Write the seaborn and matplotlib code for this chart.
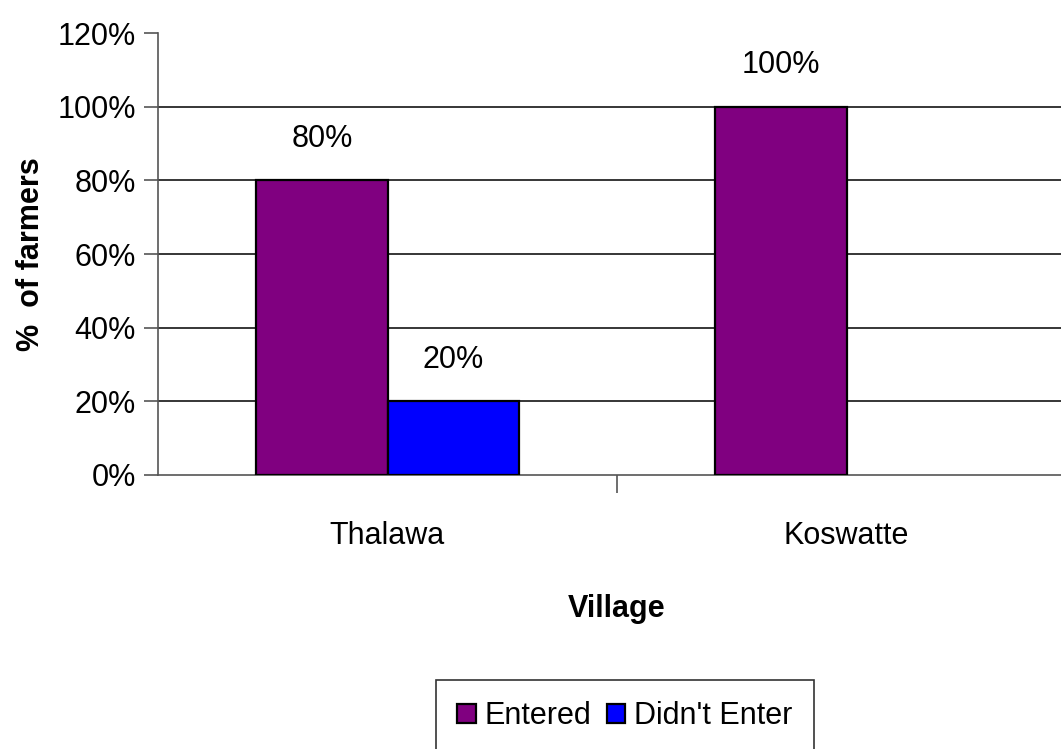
import matplotlib
matplotlib.use("Agg")
import matplotlib.pyplot as plt
import seaborn as sns
import pandas as pd
from matplotlib.ticker import FixedLocator, PercentFormatter
from matplotlib.patches import Patch

villages = ["Thalawa", "Koswatte"]
series = ["Entered", "Didn't Enter"]
entered = [80, 100]
didnt_enter = [20, 0]
y_ticks = [0, 20, 40, 60, 80, 100, 120]
colors = ["#800080", "#0000FF"]

rows = []
for v, e, d in zip(villages, entered, didnt_enter):
    rows.append({"Village": v, "Status": series[0], "Pct": e})
    rows.append({"Village": v, "Status": series[1], "Pct": d})
df = pd.DataFrame(rows)

sns.set_style("white")
fams = ["Liberation Sans Narrow", "Liberation Sans", "DejaVu Sans"]
plt.rcParams["font.family"] = fams
plt.rcParams["text.color"] = "black"
plt.rcParams["axes.labelcolor"] = "black"
plt.rcParams["xtick.color"] = "black"
plt.rcParams["ytick.color"] = "black"

FS = 22

W, H = 1061, 749
fig = plt.figure(figsize=(W / 100, H / 100), dpi=100)
left, right, top, bottom = 158, 1076, 33, 475
ax = fig.add_axes([left / W, (H - bottom) / H, (right - left) / W, (bottom - top) / H])

sns.barplot(data=df, x="Village", y="Pct", hue="Status", order=villages,
            hue_order=series, palette=colors, width=0.572, saturation=1,
            edgecolor="black", linewidth=1.6, legend=False, ax=ax, zorder=3)

# zero-height bars leave no visible outline
for container in ax.containers:
    for bar in container:
        if bar.get_height() == 0:
            bar.set_linewidth(0)

ax.set_xlim(-0.5, 1.5)
ax.set_ylim(0, 120)
ax.yaxis.set_major_locator(FixedLocator(y_ticks))
ax.yaxis.set_major_formatter(PercentFormatter(decimals=0))
for t in y_ticks[1:-1]:
    ax.axhline(t, color="black", lw=1.1, zorder=1)

for side in ["top", "right"]:
    ax.spines[side].set_visible(False)
for side in ["left", "bottom"]:
    ax.spines[side].set_color("#555555")
    ax.spines[side].set_linewidth(1.2)

ax.tick_params(axis="y", which="major", length=10, width=1.2, color="#555555",
               labelsize=FS, pad=6, left=True, labelcolor="black")
ax.tick_params(axis="x", which="major", length=0, labelsize=FS, pad=33,
               labelcolor="black")
ax.xaxis.set_minor_locator(FixedLocator([0.5]))
ax.tick_params(axis="x", which="minor", length=13, width=1.2, color="#555555",
               bottom=True)

ax.set_xlabel("Village", fontsize=22, fontweight="bold", labelpad=31,
              family=["Liberation Sans", "DejaVu Sans"])
ax.set_ylabel("%  of farmers", fontsize=22, fontweight="bold",
              family=["Liberation Sans", "DejaVu Sans"])
ax.yaxis.set_label_coords(-112 / (right - left), 0.5)

# value labels above the non-zero bars
for container, vals in zip(ax.containers, [entered, didnt_enter]):
    for bar, v in zip(container, vals):
        if v > 0:
            ax.annotate(f"{v}%", (bar.get_x() + bar.get_width() / 2, v),
                        xytext=(0, 30), textcoords="offset points",
                        ha="center", va="center", fontsize=FS)

handles = [Patch(facecolor=c, edgecolor="black", linewidth=1.6) for c in colors]
leg = fig.legend(handles, series, loc="upper left",
                 bbox_to_anchor=(436 / W, (H - 680) / H),
                 ncol=2, frameon=True, fontsize=FS, handlelength=0.6,
                 handleheight=0.6, handletextpad=0.3, columnspacing=0.5,
                 borderpad=0.7, borderaxespad=0, fancybox=False)
leg.get_frame().set_edgecolor("black")
leg.get_frame().set_linewidth(1.2)

fig.savefig("out.png", dpi=100)
